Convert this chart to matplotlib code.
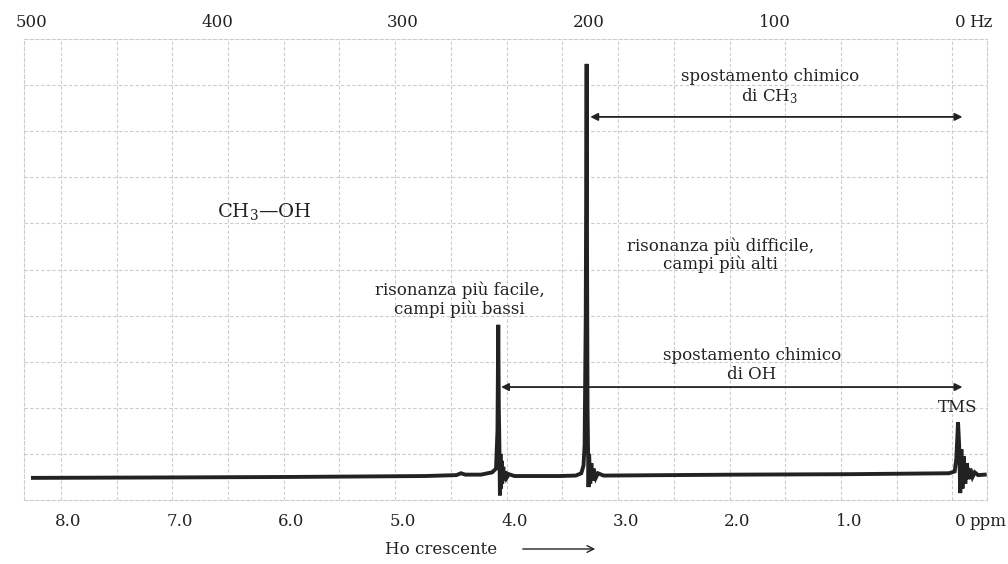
import matplotlib.pyplot as plt
import numpy as np

plt.rcParams["font.family"] = "DejaVu Serif"
plt.rcParams["mathtext.fontset"] = "dejavuserif"
plt.rcParams["font.size"] = 12
plt.rcParams["text.color"] = "#222222"

# spectrum trace: chemical shift (ppm) and signal (grid units)
ppm = [8.32, 7.0, 6.0, 4.8, 4.52, 4.48, 4.44, 4.30, 4.20, 4.165,
       4.152, 4.145, 4.14, 4.135, 4.13, 4.125, 4.12, 4.115, 4.11, 4.10,
       4.09, 4.08, 4.07, 4.05, 4.0, 3.6, 3.45, 3.40, 3.38, 3.37,
       3.36, 3.352, 3.348, 3.344, 3.34, 3.335, 3.33, 3.32, 3.31, 3.30,
       3.29, 3.27, 3.25, 3.2, 2.0, 1.0, 0.10, 0.05, 0.035, 0.02,
       0.01, 0.0, -0.01, -0.02, -0.03, -0.045, -0.06, -0.075, -0.09, -0.11,
       -0.13, -0.16, -0.22]
signal = [0.48, 0.49, 0.50, 0.52, 0.54, 0.58, 0.55, 0.55, 0.60, 0.68,
          1.5, 3.8, 2.0, 1.2, 0.10, 1.0, 0.25, 0.85, 0.35, 0.72,
          0.42, 0.62, 0.48, 0.56, 0.52, 0.52, 0.53, 0.58, 0.75, 1.2,
          4.0, 9.46, 5.0, 2.0, 1.2, 0.28, 1.0, 0.35, 0.8, 0.42,
          0.68, 0.48, 0.58, 0.53, 0.55, 0.56, 0.58, 0.62, 0.9, 1.69,
          1.2, 0.15, 1.1, 0.25, 0.95, 0.35, 0.8, 0.45, 0.68, 0.5,
          0.6, 0.54, 0.55]

ppm_ticks = [8, 7, 6, 5, 4, 3, 2, 1, 0]
ppm_labels = ["8.0", "7.0", "6.0", "5.0", "4.0", "3.0", "2.0", "1.0", "0"]
hz_ticks = [500, 400, 300, 200, 100, 0]
spectrometer_mhz = 60

fig = plt.figure(figsize=(10.08, 5.64), dpi=100)
ax = fig.add_axes([24 / 1008, 64 / 564, 963 / 1008, 461 / 564])

ax.plot(ppm, signal, color="#222222", lw=2.8, solid_joinstyle="miter")

ax.set_xlim(8.40, -0.24)
ax.set_ylim(0, 10)

# chart-paper grid
ax.set_xticks(np.arange(0.07, 8.3, 0.5), minor=True)
ax.set_yticks(np.arange(1, 10), minor=True)
ax.grid(which="minor", color="#cccccc", ls=(0, (3, 2)), lw=0.8)
for s in ax.spines.values():
    s.set_color("#cccccc")
    s.set_linestyle((0, (3, 2)))
    s.set_linewidth(0.8)
ax.tick_params(which="both", length=0)
ax.set_yticks([])

ax.set_xticks(ppm_ticks)
ax.set_xticklabels(ppm_labels)
ax.tick_params(axis="x", pad=9, labelsize=12, labelcolor="#222222")
ax.annotate("ppm", xy=(0, 0), xycoords=("data", "axes fraction"),
            xytext=(6.5, -9), textcoords="offset points", ha="left", va="top",
            fontsize=12)

top = ax.secondary_xaxis("top", functions=(lambda p: p * spectrometer_mhz,
                                           lambda h: h / spectrometer_mhz))
top.set_xticks(hz_ticks)
top.set_xticklabels([str(h) for h in hz_ticks])
top.tick_params(length=0, pad=6, labelsize=12, labelcolor="#222222")
top.spines["top"].set_visible(False)
ax.annotate("Hz", xy=(0, 1), xycoords=("data", "axes fraction"),
            xytext=(6.5, 6), textcoords="offset points", ha="left", va="bottom",
            fontsize=12)

# annotations
arrow = dict(arrowstyle="<|-|>", color="#222222", lw=1.3,
             mutation_scale=11, shrinkA=0, shrinkB=0)
ax.annotate("", xy=(3.32, 8.31), xytext=(-0.02, 8.31), arrowprops=arrow)
ax.annotate("", xy=(4.12, 2.45), xytext=(-0.02, 2.45), arrowprops=arrow)

ax.text(1.71, 8.96, "spostamento chimico\ndi CH$_3$", ha="center", va="center",
        linespacing=1.1)
ax.text(1.87, 2.93, "spostamento chimico\ndi OH", ha="center", va="center",
        linespacing=1.1)
ax.text(2.15, 5.31, "risonanza più difficile,\ncampi più alti", ha="center",
        va="center", linespacing=1.1)
ax.text(4.49, 4.34, "risonanza più facile,\ncampi più bassi", ha="center",
        va="center", linespacing=1.1)
ax.text(6.24, 6.25, "CH$_3$—OH", ha="center", va="center", fontsize=14)
ax.text(0.02, 2.0, "TMS", ha="center", va="center")

fig.text(385 / 1008, 1 - 550 / 564, "Ho crescente", ha="left", va="center",
         fontsize=12)
fig.patches.append(plt.matplotlib.patches.FancyArrowPatch(
    (520 / 1008, 1 - 549 / 564), (598 / 1008, 1 - 549 / 564),
    transform=fig.transFigure, arrowstyle="->", color="#222222", lw=1.0,
    mutation_scale=12))

fig.savefig("out.png", dpi=100)
